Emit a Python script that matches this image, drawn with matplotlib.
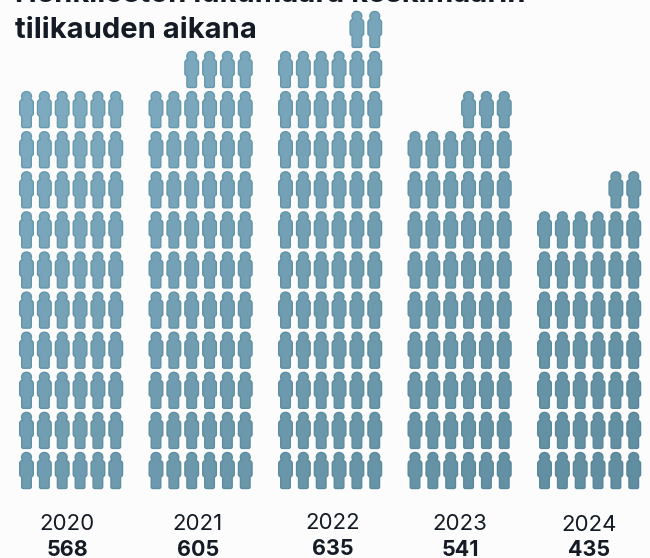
import numpy as np
import matplotlib
matplotlib.use("Agg")
import matplotlib.pyplot as plt
from matplotlib.path import Path
from matplotlib.colors import to_rgb

years = ["2020", "2021", "2022", "2023", "2024"]
values = [568, 605, 635, 541, 435]
icons = [60, 64, 68, 57, 44]
title_lines = ["Henkilöstön lukumäärä keskimäärin", "tilikauden aikana"]

per_row = 6
col_w = 17.85
row_h = 40.1
group_x = [26.5, 156, 285.5, 415, 544.5]
base_y = 470.5
label_x = [67, 198, 333, 460, 589]
label_y = [530.5, 530, 529, 530, 531]
value_y = [556.5, 556.5, 555, 556, 556.5]

plt.rcParams["font.family"] = ["Inter", "DejaVu Sans"]
BG = "#fcfcfc"
INK = "#141b25"


def person():
    right = [
        (Path.MOVETO, (0, 18.0)),
        (Path.CURVE4, (2.8, 18.0)), (Path.CURVE4, (4.9, 16.0)), (Path.CURVE4, (4.9, 13.4)),
        (Path.CURVE4, (4.9, 12.0)), (Path.CURVE4, (4.5, 11.0)), (Path.CURVE4, (3.9, 10.2)),
        (Path.LINETO, (4.4, 9.9)),
        (Path.CURVE4, (6.0, 9.6)), (Path.CURVE4, (6.8, 8.4)), (Path.CURVE4, (6.8, 6.8)),
        (Path.LINETO, (6.8, -4.0)),
        (Path.CURVE4, (6.8, -5.2)), (Path.CURVE4, (6.0, -6.0)), (Path.CURVE4, (4.8, -6.4)),
        (Path.LINETO, (4.8, -16.4)),
        (Path.CURVE4, (4.8, -17.4)), (Path.CURVE4, (4.1, -18.0)), (Path.CURVE4, (3.1, -18.0)),
        (Path.LINETO, (0, -18.0)),
    ]
    left = [(-p[0], p[1]) for _, p in right[-2::-1]]
    # the mirrored half runs backwards, so the segment codes have to line up again
    codes = [c for c, _ in right] + [c for c, _ in right[:0:-1]]
    verts = [p for _, p in right] + left
    return Path(verts, codes)


def shade(c1, c2, x, y):
    t = np.clip(0.45 * x / 650 + 0.55 * y / 490, 0, 1)
    a, b = np.array(to_rgb(c1)), np.array(to_rgb(c2))
    return tuple(a + (b - a) * t)


fig = plt.figure(figsize=(6.5, 5.58), dpi=100, facecolor=BG)
ax = fig.add_axes([0, 0, 1, 1], facecolor=BG)
ax.set_xlim(0, 650)
ax.set_ylim(558, 0)
ax.axis("off")

marker = person()
for g, n in enumerate(icons):
    xs, ys = [], []
    full_rows, extra = divmod(n, per_row)
    for r in range(full_rows):
        for c in range(per_row):
            xs.append(group_x[g] + c * col_w)
            ys.append(base_y - r * row_h)
    for c in range(per_row - extra, per_row):
        xs.append(group_x[g] + c * col_w)
        ys.append(base_y - full_rows * row_h)
    fills = [shade("#84b0c6", "#5f8c9e", x, y) for x, y in zip(xs, ys)]
    edges = [shade("#689fb3", "#578496", x, y) for x, y in zip(xs, ys)]
    ax.scatter(xs, ys, s=672, marker=marker, c=fills, edgecolors=edges, linewidths=1.0, clip_on=False)

    ax.text(label_x[g], label_y[g], years[g], ha="center", va="baseline", fontsize=16, color=INK)
    ax.text(label_x[g], value_y[g], str(values[g]), ha="center", va="baseline", fontsize=15.5,
            fontweight="bold", color=INK)

ax.text(15, 2.5, title_lines[0], ha="left", va="baseline", fontsize=21, fontweight="bold", color=INK, clip_on=False)
ax.text(15, 37.5, title_lines[1], ha="left", va="baseline", fontsize=21, fontweight="bold", color=INK)

fig.savefig("out.png", dpi=100, facecolor=BG)
